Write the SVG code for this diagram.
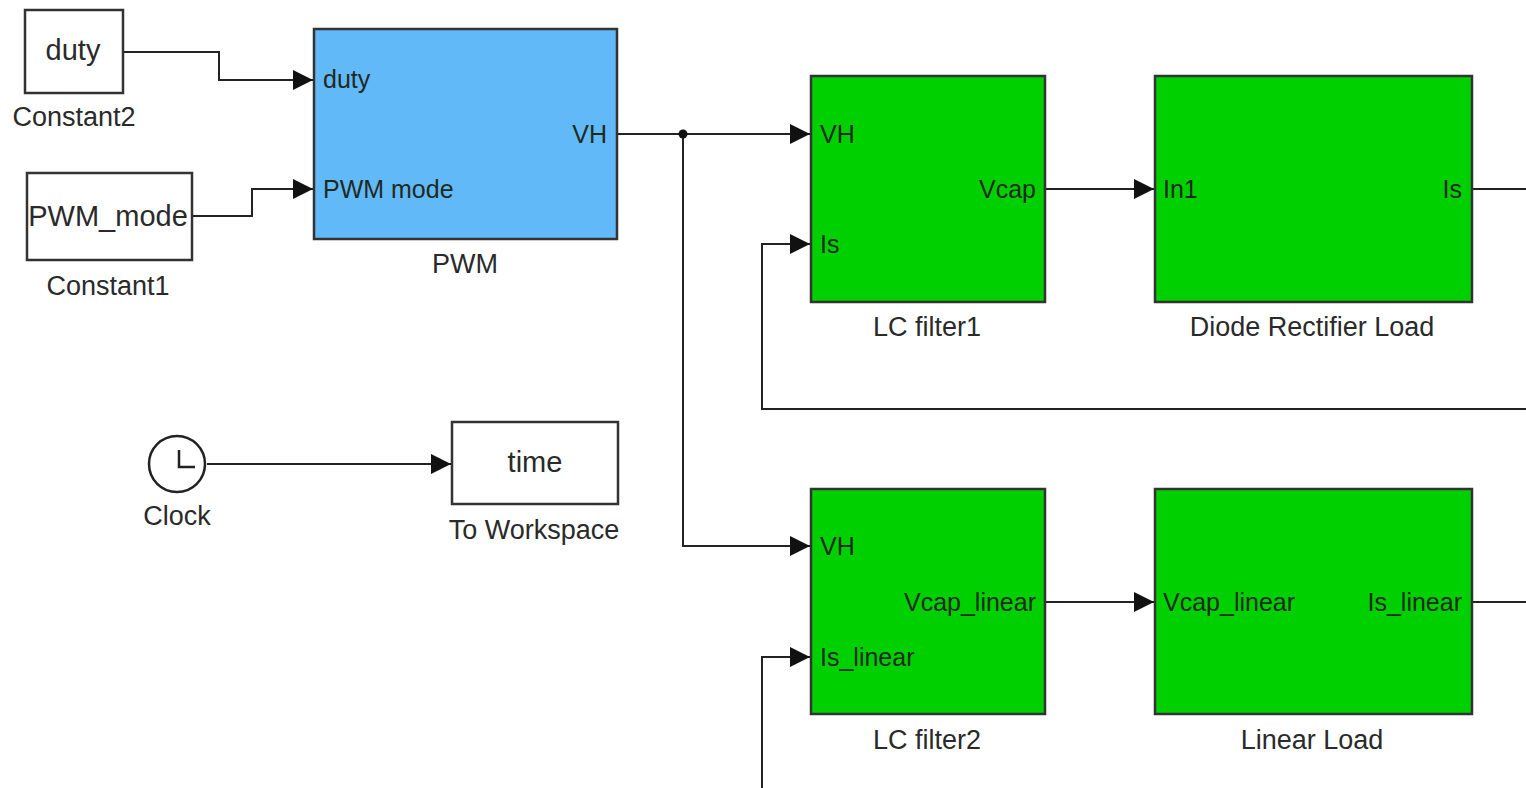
<svg xmlns="http://www.w3.org/2000/svg" width="1526" height="788" viewBox="0 0 1526 788">
<defs>
<marker id="arr" markerWidth="20" markerHeight="20" refX="20" refY="10" orient="auto" markerUnits="userSpaceOnUse">
<path d="M0,0 L20,10 L0,20 Z" fill="#111"/>
</marker>
<style>
text{font-family:"Liberation Sans",Arial,sans-serif;font-size:25px;fill:#2a2a2a}
.lbl{font-size:27px}
.cnt{font-size:29px}
.blk{stroke:#333;stroke-width:2.5}
.white{fill:#fff}
.blue{fill:#62b9f8}
.green{fill:#00d000}
.c{text-anchor:middle}
.r{text-anchor:end}
.port{fill:#1f2a1f}
.ln{fill:none;stroke:#222;stroke-width:2}
.la{fill:none;stroke:#222;stroke-width:2;marker-end:url(#arr)}
</style>
</defs>
<rect width="1526" height="788" fill="#fff"/>
<g id="connectors">
<path class="la" d="M123,52 H219 V80 H313"/>
<path class="la" d="M192,216 H252 V189 H313"/>
<path class="la" d="M617,134 H810"/>
<path class="la" d="M683,134 V546 H810"/>
<circle cx="683" cy="134" r="4.5" fill="#111"/>
<path class="la" d="M1045,189 H1154"/>
<path class="ln" d="M1472,189 H1526"/>
<path class="la" d="M1526,409 H762 V244 H810"/>
<path class="la" d="M1045,602 H1154"/>
<path class="ln" d="M1472,602 H1526"/>
<path class="la" d="M762,788 V657 H810"/>
<path class="la" d="M207,464 H451"/>
</g>
<g id="constant2">
<rect class="blk white" x="25" y="10" width="98" height="83"/>
<text class="c cnt" x="73" y="60">duty</text>
<text class="c lbl" x="74" y="126">Constant2</text>
</g>
<g id="constant1">
<rect class="blk white" x="27" y="173" width="165" height="87"/>
<text class="c cnt" x="108" y="226">PWM_mode</text>
<text class="c lbl" x="108" y="295">Constant1</text>
</g>
<g id="pwm">
<rect class="blk blue" x="314" y="29" width="303" height="210"/>
<text class="port" x="323" y="88">duty</text>
<text class="port" x="323" y="198">PWM mode</text>
<text class="port r" x="607" y="143">VH</text>
<text class="c lbl" x="465" y="273">PWM</text>
</g>
<g id="lcfilter1">
<rect class="blk green" x="811" y="76" width="234" height="226"/>
<text class="port" x="820" y="143">VH</text>
<text class="port" x="820" y="253">Is</text>
<text class="port r" x="1036" y="198">Vcap</text>
<text class="c lbl" x="927" y="336">LC filter1</text>
</g>
<g id="dioderect">
<rect class="blk green" x="1155" y="76" width="317" height="226"/>
<text class="port" x="1163" y="198">In1</text>
<text class="port r" x="1462" y="198">Is</text>
<text class="c lbl" x="1312" y="336">Diode Rectifier Load</text>
</g>
<g id="clock">
<circle cx="177" cy="464" r="28" fill="#fff" stroke="#222" stroke-width="2.5"/>
<path d="M179,450 V467 H195" fill="none" stroke="#222" stroke-width="2.5"/>
<text class="c lbl" x="177" y="525">Clock</text>
</g>
<g id="toworkspace">
<rect class="blk white" x="452" y="422" width="166" height="82"/>
<text class="c cnt" x="535" y="472">time</text>
<text class="c lbl" x="534" y="539">To Workspace</text>
</g>
<g id="lcfilter2">
<rect class="blk green" x="811" y="489" width="234" height="225"/>
<text class="port" x="820" y="555">VH</text>
<text class="port r" x="1036" y="611">Vcap_linear</text>
<text class="port" x="820" y="666">Is_linear</text>
<text class="c lbl" x="927" y="749">LC filter2</text>
</g>
<g id="linearload">
<rect class="blk green" x="1155" y="489" width="317" height="225"/>
<text class="port" x="1163" y="611">Vcap_linear</text>
<text class="port r" x="1462" y="611">Is_linear</text>
<text class="c lbl" x="1312" y="749">Linear Load</text>
</g>
</svg>
